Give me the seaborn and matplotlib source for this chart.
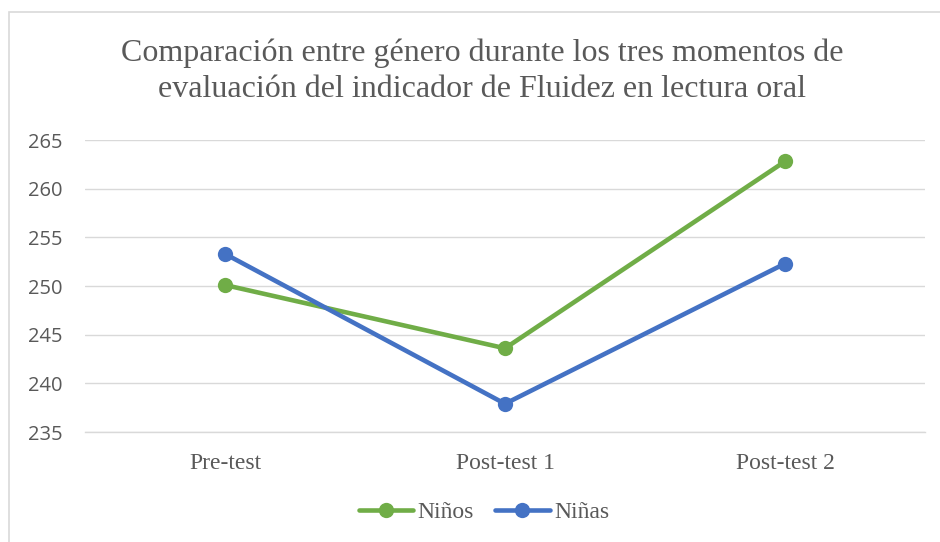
import matplotlib
matplotlib.use("Agg")
import matplotlib.pyplot as plt
import seaborn as sns
import pandas as pd
from matplotlib.patches import Rectangle

momentos = ["Pre-test", "Post-test 1", "Post-test 2"]
ninos = [250.1, 243.6, 262.8]
ninas = [253.3, 237.9, 252.3]
series_names = ["Niños", "Niñas"]
yticks = [235, 240, 245, 250, 255, 260, 265]
title = "Comparación entre género durante los tres momentos de\nevaluación del indicador de Fluidez en lectura oral"

df = pd.DataFrame({
    "momento": momentos * 2,
    "valor": ninos + ninas,
    "genero": [series_names[0]] * 3 + [series_names[1]] * 3,
})

sns.set_theme(style="white")
plt.rcParams["font.family"] = ["Liberation Serif", "DejaVu Serif"]

fig = plt.figure(figsize=(9.4, 5.42), dpi=100)
ax = fig.add_axes([85/940, 1-432/542, 840/940, 292/542])

palette = {"Niños": "#70AD47", "Niñas": "#4472C4"}
sns.lineplot(data=df, x="momento", y="valor", hue="genero", palette=palette,
             marker="o", markersize=11, markeredgewidth=0, linewidth=3.3,
             sort=False, ax=ax, legend=True)

ax.set_xlim(-0.5, 2.5)
ax.set_ylim(235, 265)
ax.set_yticks(yticks)
ax.set_xticks(range(len(momentos)))
ax.set_xticklabels(momentos)
ax.grid(axis="y", color="#D9D9D9", linewidth=1.0)
ax.set_axisbelow(True)
for s in ["top", "right", "left"]:
    ax.spines[s].set_visible(False)
ax.spines["bottom"].set_color("#D9D9D9")
ax.spines["bottom"].set_linewidth(1.0)
ax.set_xlabel("")
ax.set_ylabel("")
ax.tick_params(axis="both", length=0)
ax.tick_params(axis="x", pad=15, labelsize=17, labelcolor="#595959")
ax.tick_params(axis="y", pad=16, labelcolor="#595959")
for lbl in ax.get_yticklabels():
    lbl.set_fontfamily(["Open Sans", "DejaVu Sans"])
    lbl.set_fontsize(14.5)

fig.text(482/940, 1-71/542, title, ha="center", va="center", fontsize=23,
         color="#595959", linespacing=1.33)

handles, labels = ax.get_legend_handles_labels()
ax.legend(handles, labels, loc="center", bbox_to_anchor=((484-85)/840, (512-432)/(-292)),
          ncol=2, frameon=False, fontsize=17, labelcolor="#595959",
          handlelength=2.3, handletextpad=0.2, columnspacing=0.9)

fig.patches.append(Rectangle((9/940, -0.1), 1.2, 1.1 - 12/542, transform=fig.transFigure,
                             fill=False, edgecolor="#D9D9D9", linewidth=1.2))

fig.savefig("out.png", dpi=100)
